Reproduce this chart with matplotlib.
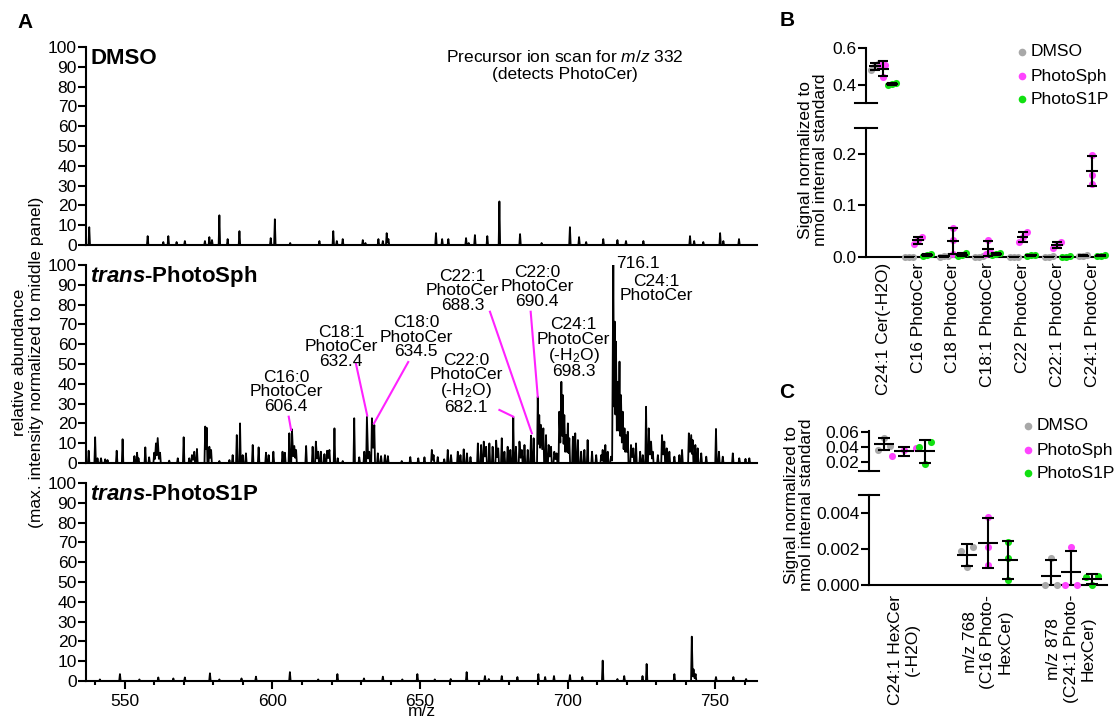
import numpy as np
import matplotlib
matplotlib.use("Agg")
import matplotlib.pyplot as plt
from matplotlib.lines import Line2D
from matplotlib.ticker import MultipleLocator

plt.rcParams['font.family'] = ['Liberation Sans', 'DejaVu Sans']
plt.rcParams['mathtext.fontset'] = 'custom'
plt.rcParams['mathtext.rm'] = 'Liberation Sans'
plt.rcParams['mathtext.it'] = 'Liberation Sans:italic'
plt.rcParams['mathtext.bf'] = 'Liberation Sans:bold'
plt.rcParams['mathtext.bfit'] = 'Liberation Sans:italic:bold'

# ---- panel A: precursor ion scans (m/z, relative abundance) ----
dmso_mz = [537.9, 557.7, 563.0, 564.7, 567.5, 570.3, 577.1, 578.6, 579.5, 582.0,
           584.8, 588.8, 599.4, 600.8, 606.0, 615.9, 620.6, 621.8, 623.8, 630.6,
           631.5, 635.9, 637.4, 638.7, 639.3, 655.4, 657.5, 659.6, 665.6, 666.5,
           668.6, 672.8, 676.9, 683.9, 691.2, 700.8, 703.9, 706.3, 712.1, 716.9,
           719.8, 725.7, 741.5, 742.9, 746.0, 751.7, 752.8, 758.1]
dmso_int = [9, 4.5, 1.5, 4.5, 1.5, 2, 2, 4, 2.5, 15,
            3, 7, 3.5, 13, 1, 2, 7, 2, 3, 2.5,
            1, 3, 2, 6, 3, 6, 3, 3, 3.5, 1,
            5, 4.5, 22, 5.5, 1, 9, 4, 1.5, 3, 2.5,
            2, 2, 4.5, 2, 1.5, 6, 2, 3]

sph_mz = [537.7, 539.9, 540.7, 541.9, 543.3, 544.1, 547.2, 549.2, 553.2, 554.1,
          554.6, 556.9, 558.2, 559.9, 560.5, 561.1, 561.9, 565.0, 567.9, 569.9,
          571.8, 572.7, 573.5, 574.4, 577.2, 577.7, 578.6, 579.2, 582.0, 585.4,
          586.5, 587.9, 589.0, 589.9, 591.0, 593.3, 595.3, 597.8, 598.7, 600.3,
          603.4, 604.2, 605.7, 606.6, 607.4, 608.0, 611.4, 613.6, 614.7, 615.5,
          616.4, 617.6, 618.5, 619.3, 621.0, 622.1, 623.8, 627.7, 629.4, 631.1,
          632.0, 632.8, 633.7, 634.5, 635.7, 636.8, 638.1, 639.1, 643.8, 646.7,
          649.4, 651.5, 654.0, 654.6, 656.0, 658.2, 659.4, 660.5, 662.8, 663.7,
          664.8, 665.9, 667.1, 669.6, 670.7, 671.6, 672.4, 673.5, 674.6, 675.8,
          676.5, 677.7, 678.6, 679.7, 680.6, 681.6, 682.5, 683.7, 684.5, 685.4,
          686.5, 687.6, 688.5, 689.9, 690.4, 691.0, 691.8, 692.7, 693.6, 694.4,
          695.5, 696.3, 697.2, 697.9, 698.4, 698.9, 699.5, 700.1, 700.6, 701.8,
          702.6, 703.5, 704.6, 705.7, 706.8, 708.3, 709.7, 711.4, 711.9, 712.8,
          713.6, 714.7, 715.5, 716.0, 716.4, 717.0, 717.6, 718.1, 718.7, 719.3,
          719.8, 720.4, 721.5, 722.3, 723.2, 724.6, 725.5, 726.6, 727.5, 728.3,
          728.9, 730.6, 732.0, 732.8, 733.6, 734.5, 736.2, 737.9, 738.8, 741.1,
          741.9, 742.4, 743.3, 744.1, 745.3, 747.0, 750.3, 751.3, 752.6, 756.0,
          758.2, 760.3, 761.6]
sph_int = [6.2, 13, 2.4, 2.4, 1.9, 1.5, 6.2, 12, 3.5, 5.2,
           2.4, 7.9, 2.9, 5.2, 9.9, 12.6, 5.2, 1.2, 2.4, 13,
           2.4, 4, 5.7, 7.1, 18.4, 17.8, 8.2, 6.6, 1.0, 1.5,
           4, 14.1, 20, 4, 4.9, 9.1, 7.9, 5.2, 4, 5.7,
           5.7, 5.2, 15, 17, 8.6, 6.6, 8.6, 8.2, 10.8, 5.7,
           5.7, 4.5, 6.2, 6.6, 17.5, 2.4, 1.0, 22.6, 2.9, 5.7,
           23.4, 5.7, 22.6, 19.2, 4.9, 3.5, 4, 3.5, 1.0, 3,
           2.4, 2.9, 6.6, 4, 3, 1.9, 6.6, 4, 5.7, 4,
           6.9, 4.9, 3, 9.9, 9.1, 10.8, 8.2, 9.9, 8.2, 11.3,
           7.4, 12.5, 5.7, 8.2, 6.6, 23.1, 8.2, 10.8, 6.6, 9.1,
           6.6, 13.8, 12.5, 33.5, 24.2, 19.2, 17.5, 14.1, 9.1, 8.2,
           5.7, 4.9, 25.9, 41, 34.3, 24.2, 14.1, 20, 12.5, 13.3,
           15, 11.6, 5.7, 6.6, 11.6, 5.7, 4, 4, 6.6, 9.1,
           5.7, 3.2, 100, 71.4, 61.3, 41, 51.2, 34.3, 25.9, 17.5,
           14.1, 15.8, 9.1, 7.4, 9.9, 5.7, 4, 28.4, 17.5, 10.8,
           5.7, 4, 14.1, 10.8, 7.4, 5.7, 3.2, 4, 6.6, 15,
           14.1, 11.6, 9.1, 7.4, 4.9, 3.2, 17.2, 5.7, 3.2, 4.9,
           2.4, 2.1, 2.4]

s1p_mz = [541.5, 548.3, 554.9, 561.3, 566.4, 570.3, 578.8, 582.0, 589.5, 594.4,
          605.9, 615.5, 622.0, 631.0, 637.4, 644.0, 649.1, 655.0, 660.4, 665.8,
          672.0, 673.3, 677.7, 683.0, 690.1, 692.4, 695.4, 700.8, 705.0, 711.9,
          716.9, 719.2, 725.4, 726.8, 736.2, 742.1, 742.7, 743.4, 750.3, 756.2,
          760.5]
s1p_int = [0.8, 3.5, 0.8, 1.8, 1.3, 1.8, 3.9, 0.8, 1.3, 2.2,
           4.5, 0.8, 3.5, 1.3, 2.2, 0.8, 3.5, 0.8, 1.0, 4.5,
           2.5, 1.0, 2.5, 2.0, 3.5, 2.0, 2.5, 3.0, 2.0, 10.3,
           1.0, 2.5, 2.5, 8.6, 3.5, 22.4, 5.9, 3.5, 2.0, 2.0,
           1.0]

# ---- panel B ----
b_categories = ['C24:1 Cer(-H2O)', 'C16 PhotoCer', 'C18 PhotoCer', 'C18:1 PhotoCer',
                'C22 PhotoCer', 'C22:1 PhotoCer', 'C24:1 PhotoCer']
b_dmso = [[0.48, 0.50, 0.52], [0.0, 0.0, 0.0], [0.0, 0.001, 0.002], [0.0, 0.0, 0.001],
          [0.0, 0.0, 0.0], [0.0, 0.0, 0.001], [0.002, 0.002, 0.003]]
b_sph = [[0.51, 0.51, 0.44], [0.039, 0.032, 0.025], [0.056, 0.032, 0.006], [0.033, 0.010, 0.005],
         [0.048, 0.038, 0.029], [0.030, 0.023, 0.017], [0.198, 0.158, 0.142]]
b_s1p = [[0.40, 0.41, 0.405], [0.003, 0.005, 0.002], [0.004, 0.007, 0.002], [0.005, 0.003, 0.007],
         [0.003, 0.002, 0.004], [0.0, 0.0, 0.001], [0.002, 0.003, 0.002]]

# ---- panel C ----
c_categories = ['C24:1 HexCer\n(-H2O)', 'm/z 768\n(C16 Photo-\nHexCer)', 'm/z 878\n(C24:1 Photo-\nHexCer)']
c_dmso = [[0.037, 0.053, 0.042], [0.0019, 0.0021, 0.0010], [0.0, 0.0015, 0.0]]
c_sph = [[0.036, 0.039, 0.028], [0.0038, 0.0021, 0.0011], [0.0, 0.0021, 0.0]]
c_s1p = [[0.047, 0.040, 0.017], [0.0024, 0.0015, 0.0003], [0.0, 0.00046, 0.00048]]

groups = ['DMSO', 'PhotoSph', 'PhotoS1P']
colors = ['#A8A8A8', '#FF44FF', '#11E011']
magenta = '#FF22FF'

W, H = 1118, 718
fig = plt.figure(figsize=(W / 100, H / 100), dpi=100)


def box(l, t, r, b):
    return [l / W, 1 - b / H, (r - l) / W, (b - t) / H]


def style(ax):
    for s in ['top', 'right']:
        ax.spines[s].set_visible(False)
    for s in ['left', 'bottom']:
        ax.spines[s].set_linewidth(1.5)


def profile(mz, inten, gap=0.8, hw=0.25):
    # spectrum trace: narrow spikes; close neighbours share a shallow valley
    order = np.argsort(mz)
    xs, ys = [], []
    prev, hprev = None, None
    for i in order:
        x, h = mz[i], inten[i]
        if prev is None or x - prev > gap:
            if prev is not None:
                xs.append(prev + hw)
                ys.append(0)
            xs.append(x - hw)
            ys.append(0)
        else:
            xs.append((prev + x) / 2)
            ys.append(0.4 * min(h, hprev))
        xs.append(x)
        ys.append(h)
        prev, hprev = x, h
    xs.append(prev + hw)
    ys.append(0)
    return xs, ys


# spectra
spectra = [(dmso_mz, dmso_int), (sph_mz, sph_int), (s1p_mz, s1p_int)]
rows = [(47, 245), (265, 463), (483, 681)]
titles = ['DMSO', r'$\mathbfit{trans}$-PhotoSph', r'$\mathbfit{trans}$-PhotoS1P']
axes_a = []
for i in range(3):
    mz, inten = spectra[i]
    ax = fig.add_axes(box(86, rows[i][0], 757, rows[i][1]))
    px, py = profile(mz, inten)
    ax.plot(px, py, color='k', lw=1.3)
    ax.set_xlim(536.8, 764.2)
    ax.set_ylim(0, 100)
    ax.set_yticks(np.arange(0, 101, 10))
    style(ax)
    ax.tick_params(axis='y', length=5.5, width=1.5, pad=1, labelsize=12.5)
    if i < 2:
        ax.tick_params(axis='x', bottom=False, labelbottom=False)
    else:
        ax.set_xticks(np.arange(550, 751, 50))
        ax.xaxis.set_minor_locator(MultipleLocator(10))
        ax.tick_params(axis='x', which='major', length=5.5, width=1.5, labelsize=12.5, pad=3.5)
        ax.tick_params(axis='x', which='minor', length=3.2, width=1.5)
        ax.set_xlabel('m/z', fontsize=12.5, labelpad=-3.5)
    ax.text(0.006, 0.94, titles[i], transform=ax.transAxes, fontsize=16,
            fontweight='bold', ha='left', va='center')
    axes_a.append(ax)

axes_a[0].text(0.714, 0.906, 'Precursor ion scan for $\\mathit{m/z}$ 332\n(detects PhotoCer)',
               transform=axes_a[0].transAxes, fontsize=12.5, ha='center', va='center')

# peak labels in the middle panel
axm = axes_a[1]
peak_labels = [
    ('C16:0\nPhotoCer\n606.4', 604.6, 36, (605.5, 23.4, 606.3, 16.7)),
    ('C18:1\nPhotoCer\n632.4', 623.2, 58.6, (628.3, 50, 632.1, 24)),
    ('C18:0\nPhotoCer\n634.5', 648.6, 63.6, (646.0, 51, 634.4, 20)),
    ('C22:0\nPhotoCer\n(-H$_2$O)\n682.1', 665.7, 40, (676.9, 26.8, 681.6, 23.4)),
    ('C22:1\nPhotoCer\n688.3', 664.4, 87, (673.7, 76.4, 687.9, 15)),
    ('C22:0\nPhotoCer\n690.4', 689.6, 89, (687.5, 76.4, 689.9, 33.5)),
    ('C24:1\nPhotoCer\n(-H$_2$O)\n698.3', 702.0, 58, None),
    ('C24:1\nPhotoCer', 730.0, 88, None),
]
for txt, x, y, ln in peak_labels:
    axm.text(x, y, txt, fontsize=12.5, ha='center', va='center', linespacing=0.95)
    if ln is not None:
        axm.plot([ln[0], ln[2]], [ln[1], ln[3]], color=magenta, lw=1.5, clip_on=False)
axm.text(716.6, 101, '716.1', fontsize=12.5, ha='left', va='center')

fig.text(28 / W, 1 - 362 / H, 'relative abundance\n(max. intensity normalized to middle panel)',
         rotation=90, ha='center', va='center', fontsize=12.5)


# dot plots with mean +/- SD
def draw_groups(ax, series, ylo, yhi, off, hw, cap, ppx, ppy, step):
    for k in range(3):
        for c, vals in enumerate(series[k]):
            v = np.asarray(vals, float)
            xc = c + (k - 1) * off
            keep = (v >= ylo - 1e-12) & (v <= yhi)
            if keep.any():
                vs = np.sort(v[keep])
                clusters = [[vs[0]]]
                for val in vs[1:]:
                    if (val - clusters[-1][-1]) * ppy < 6:
                        clusters[-1].append(val)
                    else:
                        clusters.append([val])
                xs, ys = [], []
                for cl in clusters:
                    n = len(cl)
                    for j, val in enumerate(cl):
                        xs.append(xc + (j - (n - 1) / 2) * step / ppx)
                        ys.append(val)
                ax.scatter(xs, ys, s=26, color=colors[k], lw=0, zorder=3, clip_on=False)
            m = v.mean()
            sd = v.std(ddof=1)
            if ylo <= m <= yhi:
                ax.errorbar(xc, m, yerr=sd, fmt='none', ecolor='k', elinewidth=1.5,
                            capsize=cap, capthick=1.5, zorder=4)
                ax.plot([xc - hw, xc + hw], [m, m], color='k', lw=1.5, zorder=4,
                        solid_capstyle='butt')


def add_break(x_px, y_px, half):
    fig.add_artist(Line2D([(x_px - half) / W, (x_px + half) / W], [1 - y_px / H] * 2,
                          color='k', lw=1.5, transform=fig.transFigure))


def legend(xm, ys, dx):
    for k in range(3):
        fig.add_artist(Line2D([xm / W], [1 - ys[k] / H], marker='o', ls='', ms=5.5,
                              mec='none', color=colors[k], transform=fig.transFigure))
        fig.text((xm + dx) / W, 1 - ys[k] / H, groups[k], fontsize=12.5, ha='left', va='center')


# panel B
b_series = [b_dmso, b_sph, b_s1p]
axBu = fig.add_axes(box(866, 48, 1105, 103))
axBl = fig.add_axes(box(866, 128, 1105, 257))
for ax, (lo, hi), hpx in [(axBu, (0.3, 0.6), 55), (axBl, (0.0, 0.25), 129)]:
    ax.set_xlim(-0.5, 6.37)
    ax.set_ylim(lo, hi)
    style(ax)
    ax.tick_params(axis='y', length=5.5, width=1.5, pad=1.5, labelsize=12.5)
    draw_groups(ax, b_series, lo, hi, 0.25, 0.17, 3.5, 34.8, hpx / (hi - lo), 4)
axBu.spines['bottom'].set_visible(False)
axBu.tick_params(axis='x', bottom=False, labelbottom=False)
axBu.set_yticks([0.4, 0.6])
axBu.set_yticklabels(['0.4', '0.6'])
axBl.set_yticks([0.0, 0.1, 0.2])
axBl.set_yticklabels(['0.0', '0.1', '0.2'])
axBl.set_xticks(range(len(b_categories)))
axBl.set_xticklabels(b_categories, rotation=90, fontsize=12.5)
axBl.tick_params(axis='x', length=0, pad=4)
add_break(866, 103, 11)
add_break(866, 128, 11)
fig.text(813 / W, 1 - 160 / H, 'Signal normalized to\nnmol internal standard', rotation=90,
         ha='center', va='center', fontsize=12.5, linespacing=1.0)
legend(1022, [52, 76, 99], 9)

# panel C
c_series = [c_dmso, c_sph, c_s1p]
axCu = fig.add_axes(box(869, 431, 1107, 471))
axCl = fig.add_axes(box(869, 495, 1107, 585))
for ax, (lo, hi), hpx in [(axCu, (0.008, 0.062), 40), (axCl, (0.0, 0.005), 90)]:
    ax.set_xlim(-0.42, 2.43)
    ax.set_ylim(lo, hi)
    style(ax)
    ax.tick_params(axis='y', length=5.5, width=1.5, pad=1.5, labelsize=12.5)
    draw_groups(ax, c_series, lo, hi, 0.245, 0.12, 4.5, 83.5, hpx / (hi - lo), 12)
axCu.spines['bottom'].set_visible(False)
axCu.tick_params(axis='x', bottom=False, labelbottom=False)
axCu.set_yticks([0.02, 0.04, 0.06])
axCu.set_yticklabels(['0.02', '0.04', '0.06'])
axCl.set_yticks([0.0, 0.002, 0.004])
axCl.set_yticklabels(['0.000', '0.002', '0.004'])
axCl.set_xticks(range(len(c_categories)))
axCl.set_xticklabels(c_categories, rotation=90, fontsize=12.5)
for lbl in axCl.get_xticklabels():
    lbl.set_multialignment('center')
axCl.tick_params(axis='x', length=0, pad=7)
add_break(869, 471, 10)
add_break(869, 495, 10)
fig.text(799 / W, 1 - 505 / H, 'Signal normalized to\nnmol internal standard', rotation=90,
         ha='center', va='center', fontsize=12.5, linespacing=1.0)
legend(1028, [426, 450, 473], 9)

# panel letters
fig.text(25 / W, 1 - 22 / H, 'A', fontsize=15, fontweight='bold', ha='center', va='center')
fig.text(787 / W, 1 - 20 / H, 'B', fontsize=15, fontweight='bold', ha='center', va='center')
fig.text(787 / W, 1 - 392 / H, 'C', fontsize=15, fontweight='bold', ha='center', va='center')

fig.savefig('out.png', dpi=100)
